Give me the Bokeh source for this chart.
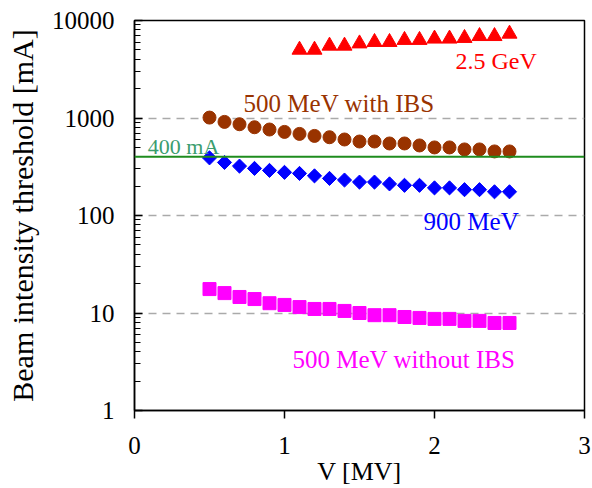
from bokeh.plotting import figure
from bokeh.models import Span, Label, FixedTicker, LogTicker, PrintfTickFormatter
from bokeh.embed import file_html
from bokeh.resources import INLINE

# Data
v_all = [0.5, 0.6, 0.7, 0.8, 0.9, 1.0, 1.1, 1.2, 1.3, 1.4, 1.5, 1.6, 1.7, 1.8, 1.9, 2.0, 2.1, 2.2, 2.3, 2.4, 2.5]
ibs500 = [1010, 912, 863, 804, 762, 720, 687, 655, 635, 602, 574, 574, 548, 548, 523, 499, 499, 476, 476, 454, 454]
mev900 = [390, 350, 321, 304, 290, 277, 270, 255, 240, 231, 220, 220, 211, 204, 204, 192, 192, 184, 184, 175, 175]
noibs500 = [17.6, 16.0, 14.6, 13.9, 12.6, 12.1, 11.5, 11.0, 11.0, 10.5, 10.0, 9.5, 9.5, 9.1, 8.9, 8.7, 8.7, 8.3, 8.3, 7.9, 7.9]
v_gev = [1.1, 1.2, 1.3, 1.4, 1.5, 1.6, 1.7, 1.8, 1.9, 2.0, 2.1, 2.2, 2.3, 2.4, 2.5]
gev25 = [5000, 5000, 5500, 5500, 5800, 6000, 6000, 6300, 6300, 6500, 6500, 6600, 6900, 6900, 7300]
limit_ma = 400
x_ticks = [0, 1, 2, 3]
y_ticks = [1, 10, 100, 1000, 10000]

FONT = "Liberation Serif"

p = figure(width=592, height=488, y_axis_type="log",
           x_range=(0, 3), y_range=(1, 10000),
           output_backend="svg", toolbar_location=None,
           min_border_left=134, min_border_right=8,
           min_border_top=20, min_border_bottom=77)
p.background_fill_color = "white"
p.border_fill_color = "white"
p.outline_line_color = "black"
p.outline_line_width = 1.5

# grids
p.xgrid.visible = False
p.ygrid.grid_line_color = "#aaaaaa"
p.ygrid.grid_line_dash = "8 6"
p.ygrid.grid_line_width = 1.5
p.ygrid.ticker = FixedTicker(ticks=[10, 100, 1000])

# axes
p.xaxis.ticker = FixedTicker(ticks=x_ticks)
p.xaxis.minor_tick_line_color = None
p.xaxis.major_tick_out = 8
p.xaxis.major_tick_in = 0
p.xaxis.major_label_standoff = 18
p.xaxis.axis_label = "V [MV]"
p.xaxis.axis_label_standoff = 0

yt = LogTicker(desired_num_ticks=5, num_minor_ticks=10)
p.yaxis.ticker = yt
p.yaxis.formatter = PrintfTickFormatter(format="%d")
p.yaxis.major_tick_in = 8
p.yaxis.major_tick_out = 0
p.yaxis.minor_tick_in = 6
p.yaxis.minor_tick_out = 0
p.yaxis.axis_label = "Beam intensity threshold [mA]"
p.yaxis.major_label_standoff = 20
p.yaxis.axis_label_standoff = 10

for ax in (p.xaxis[0], p.yaxis[0]):
    ax.axis_line_color = "black"
    ax.axis_line_width = 1.5
    ax.major_tick_line_color = "black"
    ax.major_tick_line_width = 1.5
    ax.major_label_text_font = FONT
    ax.major_label_text_font_size = "25px"
    ax.major_label_text_color = "black"
    ax.axis_label_text_font = FONT
    ax.axis_label_text_font_style = "normal"
    ax.axis_label_text_color = "black"
p.xaxis.axis_label_text_font_size = "26px"
p.yaxis.axis_label_text_font_size = "30px"
p.yaxis.minor_tick_line_color = "black"
p.yaxis.minor_tick_line_width = 1.2

# 400 mA line
p.add_layout(Span(location=limit_ma, dimension="width", line_color="#1e8c1e", line_width=2))

# series
p.scatter(v_gev, gev25, marker="triangle", size=15, fill_color="#ff0000", line_color="#ff0000")
p.scatter(v_all, ibs500, marker="circle", size=13, fill_color="#993300", line_color="#993300")
p.scatter(v_all, mev900, marker="square", size=10, angle=0.785398, fill_color="#0000ff", line_color="#0000ff")
p.scatter(v_all, noibs500, marker="square", size=13, fill_color="#ff00ff", line_color="#ff00ff")

# annotations
def lab(x, y, t, c, fs="25px"):
    p.add_layout(Label(x=x, y=y, text=t, text_color=c, text_font=FONT,
                       text_font_size=fs, text_align="left", text_baseline="alphabetic"))

lab(2.14, 3800, "2.5 GeV", "#ff0000", "24px")
lab(0.727, 1420, "500 MeV with IBS", "#993300")
lab(0.089, 510, "400 mA", "#3a9d6e", "22px")
lab(1.927, 86, "900 MeV", "#0000ff")
lab(1.053, 3.35, "500 MeV without IBS", "#ff00ff")

open("out.html", "w").write(file_html(p, INLINE))
